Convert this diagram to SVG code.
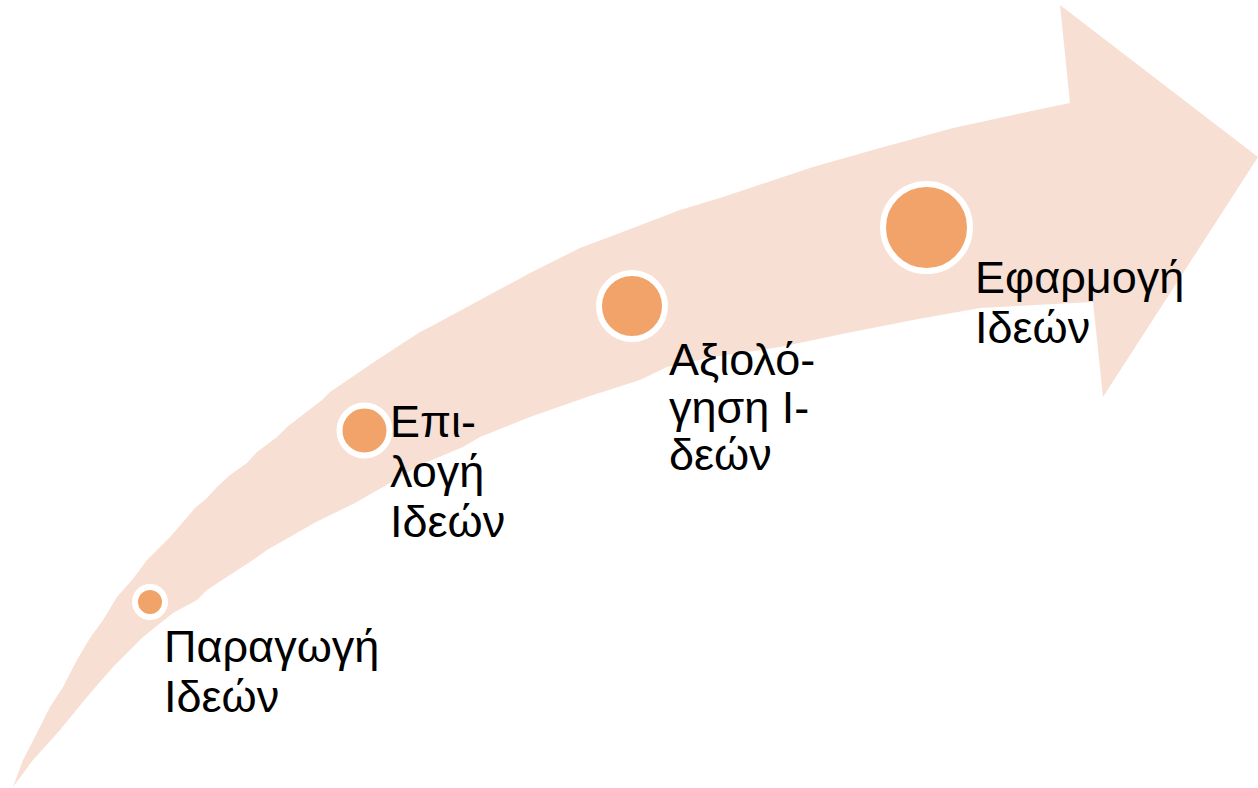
<svg xmlns="http://www.w3.org/2000/svg" width="1258" height="788" viewBox="0 0 1258 788">
<style>
.band{fill:#F8DFD3;stroke:none}
.dot{fill:#F1A36A;stroke:#FFFFFF;stroke-width:6}
.lbl{font-family:"Liberation Sans",Arial,sans-serif;font-size:45px;fill:#000000}
</style>
<rect width="1258" height="788" fill="#FFFFFF"/>
<g id="connectors">
<path id="arrow" class="band" d="M13,787 L23,760 L37,733 L50,707 L63,687 L77,660 L90,638 L103,620 L117,597 L132,580 L147,560 L160,547 L170,537 L183,522 L195,508 L207,498 L217,487 L230,475 L247,463 L257,452 L277,437 L287,427 L322,400 L330,392 L377,360 L420,332 L430,327 L480,300 L530,273 L580,248 L633,228 L680,210 L723,197 L780,178 L813,167 L880,148 L953,128 L1013,115 L1070,103 L1060,5 L1258,157 L1103,397 L1093,302 L980,308 L913,320 L847,333 L780,347 L713,357 L667,367 L640,380 L587,397 L530,417 L480,437 L463,447 L420,465 L390,483 L355,503 L316,522 L267,550 L253,560 L233,573 L207,590 L197,600 L173,613 L143,637 L113,667 L87,697 L60,730 L33,760 Z"/>
</g>
<g id="node1">
<circle class="dot" cx="150" cy="602" r="15"/>
<text class="lbl" x="164" y="662">Παραγωγή</text>
<text class="lbl" x="164" y="712">Ιδεών</text>
</g>
<g id="node2">
<circle class="dot" cx="364.5" cy="430.5" r="25"/>
<text class="lbl" x="390" y="437">Επι-</text>
<text class="lbl" x="390" y="487">λογή</text>
<text class="lbl" x="390" y="537">Ιδεών</text>
</g>
<g id="node3">
<circle class="dot" cx="632" cy="306" r="33"/>
<text class="lbl" x="669" y="375">Αξιολό-</text>
<text class="lbl" x="669" y="423">γηση Ι-</text>
<text class="lbl" x="669" y="470">δεών</text>
</g>
<g id="node4">
<circle class="dot" cx="926.5" cy="227.5" r="43.5"/>
<text class="lbl" x="975" y="293">Εφαρμογή</text>
<text class="lbl" x="975" y="343">Ιδεών</text>
</g>
</svg>
